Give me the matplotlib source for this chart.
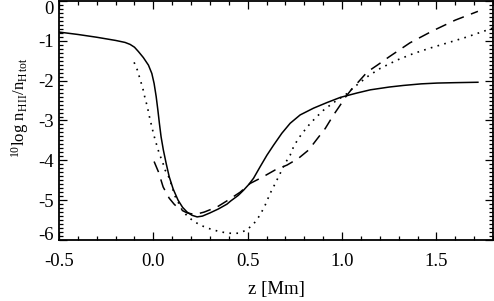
import matplotlib
matplotlib.use('Agg')
import matplotlib.pyplot as plt
from matplotlib.ticker import MultipleLocator, FixedLocator

plt.rcParams['font.family'] = ['Liberation Serif', 'DejaVu Serif']
plt.rcParams['mathtext.fontset'] = 'custom'
plt.rcParams['mathtext.rm'] = 'Liberation Serif'
plt.rcParams['mathtext.it'] = 'Liberation Serif:italic'

# curve data (z in Mm, 10log nHII/nHtot)
solid_z = [-0.5, -0.4, -0.3, -0.2, -0.15, -0.123, -0.1, -0.079, -0.053,
           -0.026, -0.008, 0.004, 0.015, 0.024, 0.032, 0.041, 0.053, 0.068,
           0.084, 0.105, 0.131, 0.155, 0.179, 0.205, 0.232, 0.26, 0.30, 0.345,
           0.39, 0.41, 0.45, 0.478, 0.505, 0.531, 0.566, 0.602, 0.637, 0.681,
           0.725, 0.778, 0.849, 0.920, 0.991, 1.079, 1.15, 1.25, 1.325, 1.42,
           1.505, 1.6, 1.72]
solid_y = [-0.78, -0.84, -0.91, -0.99, -1.04, -1.09, -1.16, -1.27, -1.42,
           -1.61, -1.82, -2.07, -2.40, -2.74, -3.07, -3.41, -3.74, -4.08,
           -4.41, -4.72, -5.0, -5.18, -5.3, -5.38, -5.42, -5.4, -5.32, -5.22,
           -5.1, -5.02, -4.88, -4.75, -4.61, -4.45, -4.16, -3.87, -3.62, -3.32,
           -3.07, -2.86, -2.69, -2.55, -2.42, -2.31, -2.23, -2.16, -2.12, -2.08,
           -2.06, -2.05, -2.04]

dotted_z = [-0.102, -0.085, -0.070, -0.056, -0.044, -0.032, -0.021, -0.008,
            0.004, 0.018, 0.032, 0.048, 0.062, 0.085, 0.115, 0.153, 0.18,
            0.211, 0.25, 0.30, 0.35, 0.40, 0.451, 0.495, 0.534, 0.566, 0.593,
            0.619, 0.646, 0.672, 0.699, 0.725, 0.743, 0.769, 0.796, 0.832,
            0.867, 0.902, 0.938, 0.973, 1.017, 1.07, 1.14, 1.203, 1.293, 1.378,
            1.468, 1.574, 1.664, 1.75, 1.8]
dotted_y = [-1.54, -1.73, -1.97, -2.19, -2.44, -2.65, -2.90, -3.16,
            -3.39, -3.62, -3.84, -4.03, -4.24, -4.45, -4.9, -5.25, -5.4,
            -5.52, -5.63, -5.72, -5.79, -5.83, -5.83, -5.75, -5.58, -5.37, -5.12,
            -4.83, -4.58, -4.33, -4.07, -3.87, -3.66, -3.45, -3.28, -3.07,
            -2.90, -2.74, -2.61, -2.49, -2.36, -2.14, -1.88, -1.69, -1.48, -1.32,
            -1.18, -1.03, -0.9, -0.76, -0.68]

dashed_z = [0.004, 0.027, 0.052, 0.084, 0.11, 0.137, 0.179, 0.22, 0.269,
            0.338, 0.396, 0.46, 0.513, 0.575, 0.646, 0.708, 0.769, 0.823,
            0.870, 0.911, 0.955, 0.991, 1.017, 1.06, 1.087, 1.134, 1.187, 1.25,
            1.36, 1.48, 1.6, 1.72]
dashed_y = [-4.03, -4.29, -4.67, -4.95, -5.1, -5.22, -5.32, -5.36, -5.30,
            -5.17, -5.0, -4.8, -4.58, -4.43, -4.24, -4.12, -3.95, -3.74,
            -3.45, -3.20, -2.86, -2.61, -2.42, -2.16, -2.03, -1.78, -1.61, -1.4,
            -1.05, -0.75, -0.48, -0.26]

xticks = [-0.5, 0.0, 0.5, 1.0, 1.5]
xticklabels = ['-0.5', '0.0', '0.5', '1.0', '1.5']
yticks = [0, -1, -2, -3, -4, -5, -6]
yticklabels = ['0', '-1', '-2', '-3', '-4', '-5', '-6']

fig = plt.figure(figsize=(4.94, 3.01), dpi=100)
ax = fig.add_axes([59 / 494, 61 / 301, 434 / 494, 239 / 301])

ax.plot(solid_z, solid_y, color='black', lw=1.1)
ax.plot(dotted_z, dotted_y, color='black', lw=1.2, linestyle=(0, (1, 3.2)))
ax.plot(dashed_z, dashed_y, color='black', lw=1.1, linestyle=(0, (7.5, 5)))

ax.set_xlim(-0.5, 1.8)
ax.set_ylim(-6, 0)

ax.xaxis.set_major_locator(FixedLocator(xticks))
ax.set_xticklabels(xticklabels)
ax.xaxis.set_minor_locator(MultipleLocator(0.1))
ax.yaxis.set_major_locator(FixedLocator(yticks))
ax.set_yticklabels(yticklabels)
ax.yaxis.set_minor_locator(MultipleLocator(0.1))

ax.tick_params(which='both', direction='in', top=True, right=True,
               labelsize=13.5, color='black', width=0.9)
ax.tick_params(which='major', length=6)
ax.tick_params(which='minor', length=3)
ax.tick_params(axis='x', which='major', pad=9)
ax.tick_params(axis='y', which='major', pad=4)

# IDL style: end labels nudged inside the axis range
ylabs = ax.get_yticklabels()
ylabs[0].set_verticalalignment('top')
ylabs[-1].set_verticalalignment('baseline')

for sp in ax.spines.values():
    sp.set_linewidth(1.3)

ax.set_xlabel('z [Mm]', fontsize=13.5, labelpad=8)
fig.text(20 / 494, 1 - 108 / 301,
         r'$^{10}$log n$_{\mathrm{H\,II}}$/n$_{\mathrm{H\,tot}}$',
         rotation=90, fontsize=12, ha='center', va='center')

fig.savefig('out.png', dpi=100)
